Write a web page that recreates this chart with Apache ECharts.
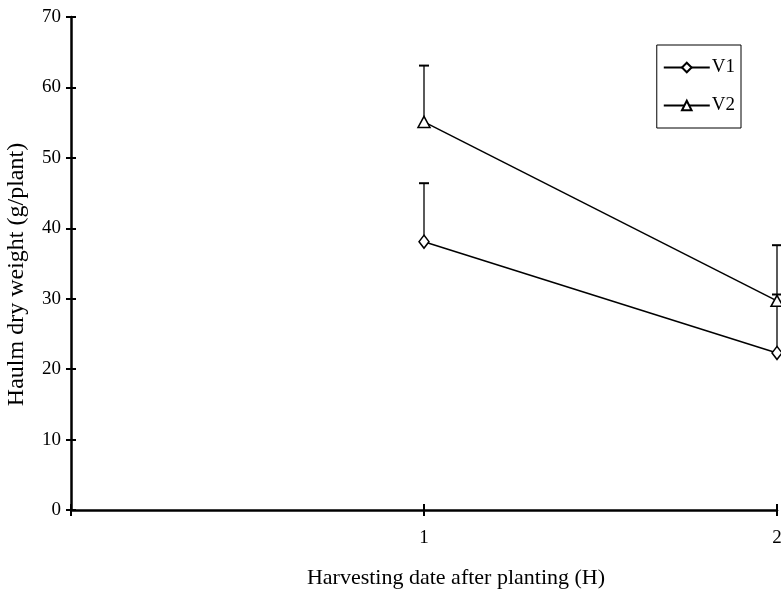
<!DOCTYPE html>
<html><head><meta charset="utf-8">
<script src="https://cdn.jsdelivr.net/npm/echarts@6/dist/echarts.min.js"></script>
<style>html,body{margin:0;padding:0;background:#fff}#c{width:781px;height:594px}</style>
</head><body><div id="c"></div>
<script>
const harvest = [1, 2];
const v1Mean = [38.1, 22.3];
const v1Err = [8.3, 8.3];
const v2Mean = [55.1, 29.7];
const v2Err = [8.0, 7.9];
const seriesNames = ['V1', 'V2'];
const xTitle = 'Harvesting date after planting (H)';
const yTitle = 'Haulm dry weight (g/plant)';

const FONT = '"Liberation Serif", "Times New Roman", serif';
const chart = echarts.init(document.getElementById('c'));

function errData(means, errs) {
  return harvest.map((x, i) => [x, means[i], means[i] + errs[i]]);
}
function errRender(params, api) {
  const x = api.value(0);
  const lo = api.coord([x, api.value(1)]);
  const hi = api.coord([x, api.value(2)]);
  const cap = 5;
  return { type: 'group', children: [
    { type: 'line', shape: { x1: lo[0], y1: lo[1], x2: hi[0], y2: hi[1] }, style: { stroke: '#000', lineWidth: 1.3 } },
    { type: 'line', shape: { x1: hi[0] - cap, y1: hi[1], x2: hi[0] + cap, y2: hi[1] }, style: { stroke: '#000', lineWidth: 2 } }
  ]};
}
const grid = { left: 71, right: 4, top: 17, bottom: 84, containLabel: false, outerBoundsMode: 'none' };
const axisLine = { show: true, lineStyle: { color: '#000', width: 2.5 } };
chart.setOption({
  animation: false,
  backgroundColor: '#fff',
  grid: grid,
  legend: {
    right: 40, top: 45, orient: 'vertical',
    data: seriesNames,
    itemWidth: 46, itemHeight: 12, itemGap: 19,
    borderColor: '#000', borderWidth: 1, padding: [13, 6, 13, 6],
    textStyle: { fontFamily: FONT, fontSize: 19, color: '#000', padding: [0, 0, 0, -3] }
  },
  xAxis: [{
    type: 'value', min: 0, max: 2, interval: 1,
    axisLine: axisLine,
    axisTick: { show: true, length: 6, lineStyle: { color: '#000', width: 2 } },
    axisLabel: { formatter: v => v === 0 ? '' : String(v), fontFamily: FONT, fontSize: 19, color: '#000', margin: 19 },
    splitLine: { show: false },
    name: xTitle, nameLocation: 'middle', nameGap: 57,
    nameTextStyle: { fontFamily: FONT, fontSize: 22, color: '#000', padding: [0, 0, 0, 64] }
  }, {
    type: 'value', min: 0, max: 2, interval: 1, position: 'bottom',
    axisLine: { show: false },
    axisTick: { show: true, inside: true, length: 6, lineStyle: { color: '#000', width: 2 } },
    axisLabel: { show: false }, splitLine: { show: false }
  }],
  yAxis: [{
    type: 'value', min: 0, max: 70, interval: 10,
    axisLine: axisLine,
    axisTick: { show: true, length: 5, lineStyle: { color: '#000', width: 2 } },
    axisLabel: { fontFamily: FONT, fontSize: 19, color: '#000', margin: 10 },
    splitLine: { show: false },
    name: yTitle, nameLocation: 'middle', nameGap: 42,
    nameTextStyle: { fontFamily: FONT, fontSize: 24, color: '#000', padding: [0, 22, 0, 0] }
  }, {
    type: 'value', min: 0, max: 70, interval: 10, position: 'left',
    axisLine: { show: false },
    axisTick: { show: true, inside: true, length: 5, lineStyle: { color: '#000', width: 2 } },
    axisLabel: { show: false }, splitLine: { show: false }
  }],
  series: [
    { type: 'custom', name: 'V1err', renderItem: errRender, data: errData(v1Mean, v1Err), z: 1, silent: true },
    { type: 'custom', name: 'V2err', renderItem: errRender, data: errData(v2Mean, v2Err), z: 1, silent: true },
    { type: 'line', name: 'V1', data: harvest.map((x, i) => [x, v1Mean[i]]), z: 3,
      symbol: 'diamond', symbolSize: [10, 13], showAllSymbol: true,
      lineStyle: { color: '#000', width: 1.5 },
      itemStyle: { color: '#fff', borderColor: '#000', borderWidth: 1.5 } },
    { type: 'line', name: 'V2', data: harvest.map((x, i) => [x, v2Mean[i]]), z: 3,
      symbol: 'triangle', symbolSize: [12, 11], showAllSymbol: true,
      lineStyle: { color: '#000', width: 1.5 },
      itemStyle: { color: '#fff', borderColor: '#000', borderWidth: 1.5 } }
  ]
});
</script></body></html>
